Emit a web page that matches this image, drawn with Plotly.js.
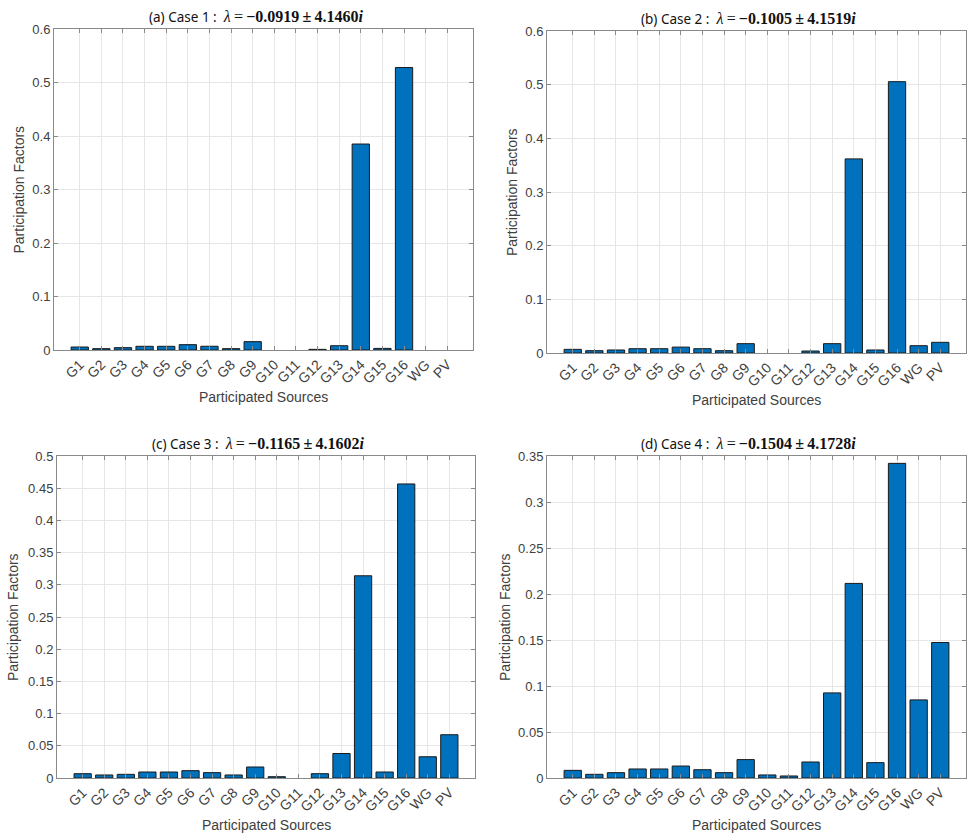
<!DOCTYPE html>
<html>
<head>
<meta charset="utf-8">
<script src="https://cdn.plot.ly/plotly-3.0.1.min.js"></script>
<style>body{margin:0;background:#fff}#chart{width:980px;height:840px}</style>
</head>
<body>
<div id="chart"></div>
<script>
const sources = ["G1","G2","G3","G4","G5","G6","G7","G8","G9","G10","G11","G12","G13","G14","G15","G16","WG","PV"];
const case1 = [0.0056,0.0025,0.0044,0.0069,0.0069,0.0100,0.0070,0.0025,0.0156,0,0,0.0012,0.0080,0.385,0.0030,0.528,0,0];
const case2 = [0.0068,0.0043,0.0056,0.0080,0.0080,0.0110,0.0080,0.0043,0.0174,0,0,0.0037,0.0174,0.3617,0.0056,0.5056,0.0136,0.0199];
const case3 = [0.0067,0.0047,0.0057,0.0093,0.0093,0.0114,0.0083,0.0047,0.0171,0.0020,0,0.0067,0.0380,0.314,0.0093,0.4566,0.0330,0.0672];
const case4 = [0.0083,0.0040,0.0058,0.0098,0.0098,0.0130,0.0090,0.0058,0.0200,0.0033,0.0022,0.0174,0.0925,0.2115,0.0167,0.342,0.0849,0.1473];
const titles = [
  ["(a) Case 1", "−0.0919", "4.1460"],
  ["(b) Case 2", "−0.1005", "4.1519"],
  ["(c) Case 3", "−0.1165", "4.1602"],
  ["(d) Case 4", "−0.1504", "4.1728"]
];
const yMax = [0.6, 0.6, 0.5, 0.35];
const yStep = [0.1, 0.1, 0.05, 0.05];
const series = [case1, case2, case3, case4];

const doms = [
  {x:[54/980, 473/980], y:[1-350/840, 1-29/840]},
  {x:[547/980, 966/980], y:[1-353/840, 1-31/840]},
  {x:[57/980, 475/980], y:[1-778/840, 1-456/840]},
  {x:[547/980, 966/980], y:[1-778/840, 1-456/840]}
];
const yTitleShift = [-36, -35, -44, -42];

const traces = [];
const layout = {
  width: 980, height: 840,
  margin: {l:0, r:0, t:0, b:0},
  paper_bgcolor: '#fff', plot_bgcolor: '#fff',
  showlegend: false,
  font: {family: 'Liberation Sans, Arial, sans-serif', color: '#404040'},
  annotations: []
};
const n = sources.length;
const thin = '\u2009';
for (let i = 0; i < 4; i++) {
  const s = i === 0 ? '' : String(i + 1);
  traces.push({
    type: 'bar', x: sources, y: series[i],
    xaxis: 'x' + s, yaxis: 'y' + s,
    width: 0.8,
    marker: {color: '#0072BD', line: {color: '#1a1a1a', width: series[i].map(v => v > 0 ? 1 : 0)}},
    hoverinfo: 'x+y'
  });
  const axCommon = {
    showline: true, linecolor: '#8a8a8a', linewidth: 1, mirror: 'ticks',
    ticks: 'inside', ticklen: 4, tickcolor: '#8a8a8a',
    showgrid: true, gridcolor: '#e6e6e6', gridwidth: 1, zeroline: false,
    tickfont: {family: 'Liberation Sans, Arial, sans-serif', size: 13, color: '#404040'}
  };
  layout['xaxis' + s] = Object.assign({}, axCommon, {
    domain: doms[i].x, anchor: 'y' + s,
    type: 'category', categoryorder: 'array', categoryarray: sources,
    range: [-1.19, n - 1 + 1.19], tickangle: -45, fixedrange: true,
    tickfont: {family: 'Liberation Sans, Arial, sans-serif', size: 14, color: '#404040'}
  });
  layout['yaxis' + s] = Object.assign({}, axCommon, {
    domain: doms[i].y, anchor: 'x' + s,
    range: [0, yMax[i]], dtick: yStep[i], tick0: 0, fixedrange: true
  });
  const cx = (doms[i].x[0] + doms[i].x[1]) / 2;
  const t = titles[i];
  layout.annotations.push({
    xref: 'paper', yref: 'paper', x: cx - 8/980, y: doms[i].y[1], yshift: 1,
    xanchor: 'center', yanchor: 'bottom', showarrow: false,
    text: '<span style="font-family:Noto Sans, Open Sans, sans-serif;font-size:13.5px">' + t[0] + ' :  </span>' +
          '<span style="font-family:Liberation Serif, Times New Roman, serif;font-size:16px"><i>λ</i>' + thin + '=' + thin + '<b>' + t[1] + thin + '±' + thin + t[2] + '<i>i</i></b></span>',
    font: {size: 14, color: '#111'}
  });
  layout.annotations.push({
    xref: 'paper', yref: 'paper', x: cx, y: doms[i].y[0], yshift: -47,
    xanchor: 'center', yanchor: 'middle', showarrow: false,
    text: 'Participated Sources',
    font: {family: 'Liberation Sans, Arial, sans-serif', size: 14, color: '#404040'}
  });
  layout.annotations.push({
    xref: 'paper', yref: 'paper', x: doms[i].x[0], xshift: yTitleShift[i], y: (doms[i].y[0] + doms[i].y[1]) / 2,
    xanchor: 'center', yanchor: 'middle', showarrow: false, textangle: -90,
    text: 'Participation Factors',
    font: {family: 'Liberation Sans, Arial, sans-serif', size: 14, color: '#404040'}
  });
}
Plotly.newPlot('chart', traces, layout, {displayModeBar: false, staticPlot: true});
</script>
</body>
</html>
